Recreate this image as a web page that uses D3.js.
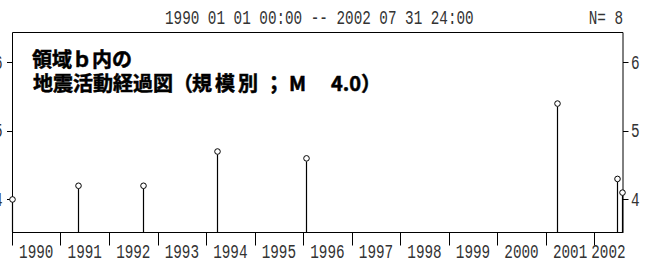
<!DOCTYPE html>
<html>
<head>
<meta charset="utf-8">
<script src="https://cdn.jsdelivr.net/npm/d3@7"></script>
<style>
  body { margin: 0; background: #fff; }
  svg { display: block; }
  .mono { font-family: "Liberation Mono", "DejaVu Sans Mono", monospace; font-size: 14.3px; fill: #333; }
  .ttl { font-family: "Noto Sans CJK JP", sans-serif; font-weight: 700; font-size: 20px; fill: #000; stroke: #000; stroke-width: 0.5px; }
</style>
</head>
<body>
<div id="chart"></div>
<script>
// events: date, magnitude
const dates = ["1990-01-04", "1991-05-12", "1992-09-13", "1994-03-22", "1996-01-22", "2001-03-25", "2002-06-23", "2002-07-25"];
const mags = [4.0, 4.2, 4.2, 4.7, 4.6, 5.4, 4.3, 4.1];
const years = [1990, 1991, 1992, 1993, 1994, 1995, 1996, 1997, 1998, 1999, 2000, 2001, 2002];
const magTicks = [4, 5, 6];
const header = "1990 01 01 00:00 -- 2002 07 31 24:00";
const countLabel = "N= 8";
const titleLine1 = "領域ｂ内の";
// second title line in pieces: [text, x]
const titleLine2 = [["地震活動経過図（", 33], ["規模別", 192], ["；", 264], ["M", 289], ["4.0）", 331]];

const width = 652, height = 262;
const mLeft = 12, mRight = 622.5, mTop = 32, mBottom = 232;
const sy = 1.42; // stretch the mono digits vertically

const svg = d3.select("#chart").append("svg")
  .attr("width", width)
  .attr("height", height);

const x = d3.scaleUtc()
  .domain([new Date(Date.UTC(1990, 0, 1)), new Date(Date.UTC(2002, 7, 1))])
  .range([mLeft, mRight]);

const y = d3.scaleLinear()
  .domain([3.525, 6.445])
  .range([mBottom, mTop]);

const events = dates.map((d, i) => ({date: new Date(d + "T00:00:00Z"), m: mags[i]}));

// frame
svg.append("path")
  .attr("d", `M${mLeft + .5},${mBottom}V${mTop + .5}H${mRight + .5}V${mBottom}`)
  .attr("fill", "none")
  .attr("stroke", "#000");

// bottom axis: ticks at year boundaries, labels centered within each year
const xAxis = svg.append("g").attr("transform", `translate(0,${mBottom + .5})`);
xAxis.append("line")
  .attr("x1", mLeft).attr("x2", mRight + 1)
  .attr("stroke", "#000");
xAxis.selectAll(".tk")
  .data(years)
  .join("line")
  .attr("class", "tk")
  .attr("x1", d => Math.round(x(new Date(Date.UTC(d, 0, 1)))) + .5)
  .attr("x2", d => Math.round(x(new Date(Date.UTC(d, 0, 1)))) + .5)
  .attr("y1", 0).attr("y2", 13)
  .attr("stroke", "#000");
xAxis.selectAll("text")
  .data(years)
  .join("text")
  .attr("class", "mono")
  .attr("text-anchor", "middle")
  .attr("transform", d => {
    const a = x(new Date(Date.UTC(d, 0, 1)));
    const b = Math.min(x(new Date(Date.UTC(d + 1, 0, 1))), mRight);
    return `translate(${(a + b) / 2},25.5) scale(1,${sy})`;
  })
  .text(d => d);

// right axis with labels
const rAxis = svg.append("g");
rAxis.selectAll("line")
  .data(magTicks)
  .join("line")
  .attr("x1", mRight + .5).attr("x2", mRight + 6)
  .attr("y1", d => Math.round(y(d)) + .5)
  .attr("y2", d => Math.round(y(d)) + .5)
  .attr("stroke", "#000");
rAxis.selectAll("text")
  .data(magTicks)
  .join("text")
  .attr("class", "mono")
  .attr("transform", d => `translate(631,${y(d) + 6.5}) scale(1,${sy})`)
  .text(d => d);

// left axis, labels fall off the page edge
const lAxis = svg.append("g");
lAxis.selectAll("line")
  .data(magTicks)
  .join("line")
  .attr("x1", mLeft - 5).attr("x2", mLeft)
  .attr("y1", d => Math.round(y(d)) + .5)
  .attr("y2", d => Math.round(y(d)) + .5)
  .attr("stroke", "#000");
lAxis.selectAll("text")
  .data(magTicks)
  .join("text")
  .attr("class", "mono")
  .attr("text-anchor", "end")
  .attr("transform", d => `translate(2.5,${y(d) + 6.5}) scale(1,${sy})`)
  .text(d => d);

// stems + markers
const ev = svg.append("g");
ev.selectAll("line")
  .data(events)
  .join("line")
  .attr("x1", d => Math.round(x(d.date)) + .5)
  .attr("x2", d => Math.round(x(d.date)) + .5)
  .attr("y1", d => y(d.m) + 3)
  .attr("y2", mBottom)
  .attr("stroke", "#000")
  .attr("stroke-width", 1.2);
ev.selectAll("circle")
  .data(events)
  .join("circle")
  .attr("cx", d => Math.round(x(d.date)) + .5)
  .attr("cy", d => y(d.m))
  .attr("r", 2.8)
  .attr("fill", "#fff")
  .attr("stroke", "#000")
  .attr("stroke-width", 1);

// header
svg.append("text")
  .attr("class", "mono")
  .attr("transform", `translate(165,23.5) scale(1,${sy})`)
  .text(header);
svg.append("text")
  .attr("class", "mono")
  .attr("text-anchor", "end")
  .attr("transform", `translate(623,23.5) scale(1,${sy})`)
  .text(countLabel);

// title
const t = svg.append("g").attr("class", "ttl");
t.append("text")
  .attr("x", 32).attr("y", 67)
  .text(titleLine1);
const t2 = t.append("text").attr("y", 91);
t2.selectAll("tspan")
  .data(titleLine2)
  .join("tspan")
  .attr("x", d => d[1])
  .attr("letter-spacing", (d, i) => i === 1 ? 3 : 0)
  .text(d => d[0]);
</script>
</body>
</html>
